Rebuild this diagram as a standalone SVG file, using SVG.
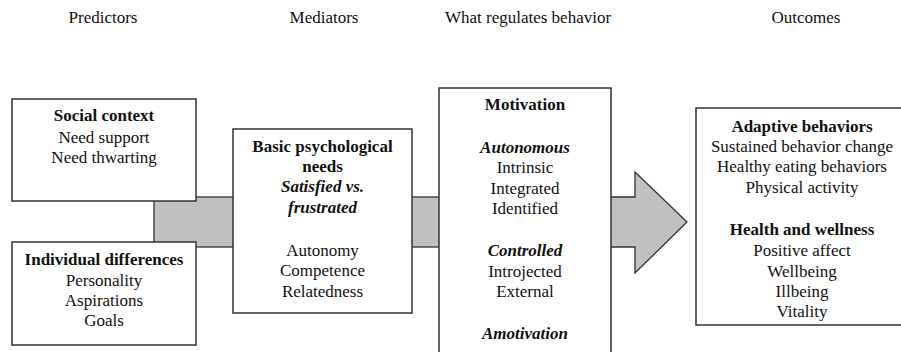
<svg xmlns="http://www.w3.org/2000/svg" width="901" height="352" viewBox="0 0 901 352">
<style>
text{font-family:"Liberation Serif","Times New Roman",Times,"Tinos","DejaVu Serif","Noto Serif",serif;font-size:17px;fill:#111;text-anchor:middle}
.h{font-size:17px}
.b{font-weight:bold}
.bi{font-weight:bold;font-style:italic}
.box{fill:#fff;stroke:#333;stroke-width:1.5}
.conn{fill:#c0c0c0;stroke:#333;stroke-width:1.3}
</style>
<rect width="901" height="352" fill="#fff"/>
<g id="headers">
<text class="h" x="103" y="23">Predictors</text>
<text class="h" x="324" y="23">Mediators</text>
<text class="h" x="528" y="23">What regulates behavior</text>
<text class="h" x="806" y="23">Outcomes</text>
</g>
<g id="connectors">
<rect class="conn" x="154" y="197" width="80" height="50"/>
<rect class="conn" x="411" y="197" width="29" height="50"/>
<polygon class="conn" points="610,197 635,197 635,172 687,222 635,273 635,247 610,247"/>
</g>
<g id="social-context">
<rect class="box" x="12" y="99" width="184" height="102"/>
<text class="b" x="104" y="121">Social context</text>
<text x="104" y="143">Need support</text>
<text x="104" y="163">Need thwarting</text>
</g>
<g id="individual-differences">
<rect class="box" x="12" y="242" width="184" height="103"/>
<text class="b" x="104" y="265">Individual differences</text>
<text x="104" y="286">Personality</text>
<text x="104" y="306">Aspirations</text>
<text x="104" y="326">Goals</text>
</g>
<g id="basic-needs">
<rect class="box" x="233" y="129" width="179" height="184"/>
<text class="b" x="322.5" y="152">Basic psychological</text>
<text class="b" x="322.5" y="172">needs</text>
<text class="bi" x="322.5" y="192">Satisfied vs.</text>
<text class="bi" x="322.5" y="213">frustrated</text>
<text x="322.5" y="256">Autonomy</text>
<text x="322.5" y="276">Competence</text>
<text x="322.5" y="297">Relatedness</text>
</g>
<g id="motivation">
<rect class="box" x="439" y="88" width="172" height="280"/>
<text class="b" x="525" y="110">Motivation</text>
<text class="bi" x="525" y="153">Autonomous</text>
<text x="525" y="173">Intrinsic</text>
<text x="525" y="194">Integrated</text>
<text x="525" y="214">Identified</text>
<text class="bi" x="525" y="256">Controlled</text>
<text x="525" y="277">Introjected</text>
<text x="525" y="297">External</text>
<text class="bi" x="525" y="339">Amotivation</text>
</g>
<g id="outcomes">
<rect class="box" x="696" y="108" width="215" height="217"/>
<text class="b" x="802" y="132">Adaptive behaviors</text>
<text x="802" y="152">Sustained behavior change</text>
<text x="802" y="172">Healthy eating behaviors</text>
<text x="802" y="193">Physical activity</text>
<text class="b" x="802" y="235">Health and wellness</text>
<text x="802" y="256">Positive affect</text>
<text x="802" y="277">Wellbeing</text>
<text x="802" y="297">Illbeing</text>
<text x="802" y="317">Vitality</text>
</g>
</svg>
